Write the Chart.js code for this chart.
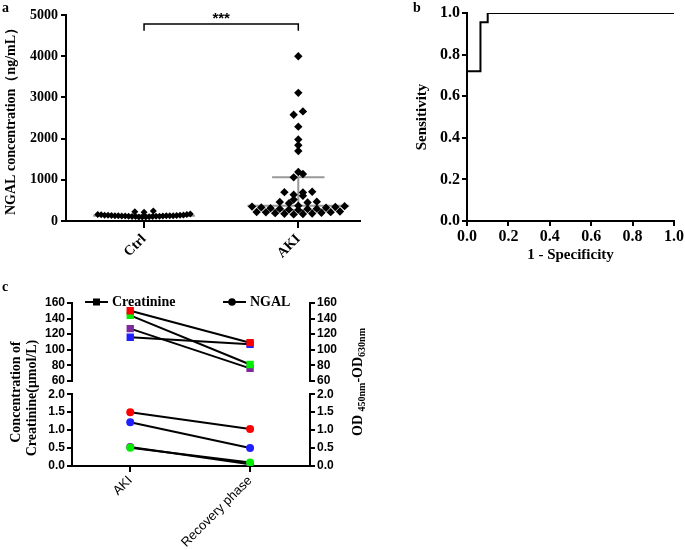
<!DOCTYPE html>
<html>
<head>
<meta charset="utf-8">
<script src="https://cdn.jsdelivr.net/npm/chart.js@4.4.1/dist/chart.umd.min.js"></script>
<style>
body { margin: 0; background: #fff; width: 685px; height: 550px; position: relative; overflow: hidden; font-family: 'Times New Roman', 'Liberation Serif', serif; }
canvas { position: absolute; }
.lbl { position: absolute; font-weight: bold; font-size: 14px; line-height: 16px; color: #000; white-space: nowrap; }
.rot { transform: translate(-50%, -50%) rotate(-90deg); }
sub { font-size: 10px; vertical-align: -3px; }
</style>
</head>
<body>
<canvas id="chartA" width="400" height="270" style="left:0;top:0"></canvas>
<canvas id="chartB" width="300" height="270" style="left:400px;top:0"></canvas>
<canvas id="chartC1" width="385" height="105" style="left:0;top:285px"></canvas>
<canvas id="chartC2" width="385" height="165" style="left:0;top:385px"></canvas>

<div class="lbl" style="left:2px;top:0px">a</div>
<div class="lbl" style="left:413px;top:0px">b</div>
<div class="lbl" style="left:2px;top:279px">c</div>
<div class="lbl rot" style="left:16px;top:392px">Concentration of</div>
<div class="lbl rot" style="left:32px;top:398px">Creatinine(μmol/L)</div>
<div class="lbl rot" style="left:360px;top:382px">OD <sub>450nm</sub>-OD<sub>630nm</sub></div>

<script>
// ---- panel a : NGAL concentration ----
const groups = ['Ctrl', 'AKI'];
const ctrlValues = [95, 100, 100, 105, 108, 110, 112, 115, 115, 118, 120, 120, 122, 125, 125, 128,
    130, 130, 132, 135, 138, 140, 142, 145, 150, 155, 160, 170, 215, 225, 240];
const akiValues = [160, 170, 175, 180, 190, 200, 210, 215, 220, 230,
    270, 280, 290, 295, 300, 310, 320, 330, 340, 350,
    360, 372, 430, 450, 460, 470, 520, 610, 640, 690, 700, 710,
    1060, 1140, 1190, 1700, 1840, 1980, 2290, 2580, 2660, 3110, 4000];
const ngalTicks = [0, 1000, 2000, 3000, 4000, 5000];

// ---- panel b : ROC ----
const rocFpr = [0, 0, 0.065, 0.1, 1];
const rocTpr = [0, 0.72, 0.955, 1, 1];
const rocTicks = [0, 0.2, 0.4, 0.6, 0.8, 1.0];

// ---- panel c : paired samples ----
const phases = ['AKI', 'Recovery phase'];
const patientColors = ['#ff0000', '#00ee00', '#7d2a9c', '#1f1fff'];
const creatinineAki = [150, 144, 127, 116];
const creatinineRecovery = [109, 81, 76, 107];
const ngalOrder = [0, 3, 1, 2]; // red, blue, green, purple
const ngalAki = [1.50, 0.51, 0.53, 1.22];
const ngalRecovery = [1.03, 0.10, 0.05, 0.50];
const creatinineTicks = [60, 80, 100, 120, 140, 160];
const odTicks = [0, 0.5, 1.0, 1.5, 2.0];

const serif = "'Times New Roman', 'Liberation Serif', serif";
const sans = "Arial, 'Liberation Sans', sans-serif";

function quantile(vals, p) {
    const s = [...vals].sort((a, b) => a - b);
    const pos = (s.length + 1) * p - 1;
    const lo = Math.max(0, Math.floor(pos));
    const hi = Math.min(s.length - 1, lo + 1);
    return s[lo] + (s[hi] - s[lo]) * (pos - lo);
}

// column scatter layout: points of similar value are spread sideways, lowest in the middle
function swarm(values, center, binSize, step, maxHalf) {
    const sorted = [...values].sort((a, b) => a - b);
    const bins = [];
    sorted.forEach(v => {
        const last = bins[bins.length - 1];
        if (last && v - last[0] <= binSize) { last.push(v); } else { bins.push([v]); }
    });
    const pts = [];
    bins.forEach(bin => {
        const k = bin.length;
        const s = k > 1 ? Math.min(step, 2 * maxHalf / (k - 1)) : 0;
        const slots = bin.map((v, j) => j - (k - 1) / 2)
            .sort((a, b) => Math.abs(a) - Math.abs(b) || a - b);
        bin.forEach((v, i) => pts.push({ x: center + slots[i] * s, y: v }));
    });
    return pts;
}

function axisStyle(extra) {
    return Object.assign({
        border: { color: '#000', width: 2 },
        grid: { display: true, drawOnChartArea: false, drawTicks: true, tickLength: 5, color: '#000', lineWidth: 2 }
    }, extra);
}

// summary lines (median + interquartile range) and significance bracket
const summaryPlugin = {
    id: 'summary',
    beforeDatasetsDraw(chart) {
        const { ctx, scales: { x, y } } = chart;
        ctx.save();
        ctx.strokeStyle = '#999';
        ctx.lineWidth = 2;
        [ctrlValues, akiValues].forEach((vals, i) => {
            const q1 = quantile(vals, 0.25), med = quantile(vals, 0.5), q3 = quantile(vals, 0.75);
            ctx.beginPath();
            ctx.moveTo(x.getPixelForValue(i - 0.33), y.getPixelForValue(med));
            ctx.lineTo(x.getPixelForValue(i + 0.33), y.getPixelForValue(med));
            [q1, q3].forEach(q => {
                ctx.moveTo(x.getPixelForValue(i - 0.17), y.getPixelForValue(q));
                ctx.lineTo(x.getPixelForValue(i + 0.17), y.getPixelForValue(q));
            });
            ctx.moveTo(x.getPixelForValue(i), y.getPixelForValue(q1));
            ctx.lineTo(x.getPixelForValue(i), y.getPixelForValue(q3));
            ctx.stroke();
        });
        ctx.restore();
    },
    afterDraw(chart) {
        const { ctx, scales: { x, y } } = chart;
        const x0 = x.getPixelForValue(0), x1 = x.getPixelForValue(1);
        const top = y.getPixelForValue(4780), leg = y.getPixelForValue(4620);
        ctx.save();
        ctx.strokeStyle = '#000';
        ctx.lineWidth = 1.5;
        ctx.beginPath();
        ctx.moveTo(x0, leg); ctx.lineTo(x0, top); ctx.lineTo(x1, top); ctx.lineTo(x1, leg);
        ctx.stroke();
        ctx.fillStyle = '#000';
        ctx.font = 'bold 15px ' + sans;
        ctx.textAlign = 'center';
        ctx.fillText('***', (x0 + x1) / 2, top - 1);
        ctx.restore();
    }
};

new Chart(document.getElementById('chartA'), {
    type: 'scatter',
    data: {
        datasets: [
            { data: swarm(ctrlValues, 0, 100, 0.06, 0.3), pointStyle: 'rectRot', pointRadius: 3.5, backgroundColor: '#000', borderColor: '#000', borderWidth: 0 },
            { data: swarm(akiValues, 1, 100, 0.06, 0.3), pointStyle: 'rectRot', pointRadius: 4.2, backgroundColor: '#000', borderColor: '#000', borderWidth: 0 }
        ]
    },
    options: {
        responsive: false,
        animation: false,
        events: [],
        layout: { padding: { top: 15, right: 40, left: 0, bottom: 0 } },
        plugins: { legend: { display: false }, tooltip: { enabled: false } },
        scales: {
            x: axisStyle({
                type: 'linear', min: -0.506, max: 1.4,
                afterBuildTicks: s => { s.ticks = groups.map((g, i) => ({ value: i })); },
                afterFit: s => { s.height = 49; },
                grid: { display: true, drawOnChartArea: false, drawTicks: true, tickLength: 7, color: '#000', lineWidth: 2 },
                ticks: { callback: v => groups[v], minRotation: 45, maxRotation: 45, autoSkip: false, color: '#000', padding: 3, font: { family: serif, size: 14, weight: 'bold' } }
            }),
            y: axisStyle({
                min: 0, max: 5000,
                afterBuildTicks: s => { s.ticks = ngalTicks.map(v => ({ value: v })); },
                afterFit: s => { s.width = 66; },
                ticks: { callback: v => String(v), autoSkip: false, color: '#000', padding: 3, font: { family: serif, size: 14, weight: 'bold' } },
                title: { display: true, text: 'NGAL concentration（ng/mL）', color: '#000', padding: { top: 3 }, font: { family: serif, size: 14, weight: 'bold' } }
            })
        }
    },
    plugins: [summaryPlugin]
});

new Chart(document.getElementById('chartB'), {
    type: 'line',
    data: {
        datasets: [{
            data: rocFpr.map((f, i) => ({ x: f, y: rocTpr[i] })),
            stepped: true, borderColor: '#000', borderWidth: 2, pointRadius: 0, fill: false
        }]
    },
    options: {
        responsive: false,
        animation: false,
        events: [],
        layout: { padding: { top: 13, right: 26, left: 0, bottom: 0 } },
        plugins: { legend: { display: false }, tooltip: { enabled: false } },
        scales: {
            x: axisStyle({
                type: 'linear', min: 0, max: 1,
                afterBuildTicks: s => { s.ticks = rocTicks.map(v => ({ value: v })); },
                afterFit: s => { s.height = 49; },
                ticks: { callback: v => v.toFixed(1), autoSkip: false, color: '#000', padding: 1, maxRotation: 0, font: { family: serif, size: 16, weight: 'bold' } },
                title: { display: true, text: '1 - Specificity', color: '#000', padding: { bottom: 6 }, font: { family: serif, size: 15, weight: 'bold' } }
            }),
            y: axisStyle({
                min: 0, max: 1,
                afterBuildTicks: s => { s.ticks = rocTicks.map(v => ({ value: v })); },
                afterFit: s => { s.width = 67; },
                ticks: { callback: v => v.toFixed(1), autoSkip: false, color: '#000', padding: 2, font: { family: serif, size: 16, weight: 'bold' } },
                title: { display: true, text: 'Sensitivity', color: '#000', padding: { top: 13 }, font: { family: serif, size: 15, weight: 'bold' } }
            })
        }
    }
});

// legend drawn over the top half of panel c
const legendPlugin = {
    id: 'pairLegend',
    afterDraw(chart) {
        const ctx = chart.ctx;
        const y = 17;
        ctx.save();
        ctx.strokeStyle = '#000';
        ctx.fillStyle = '#000';
        ctx.lineWidth = 2;
        ctx.beginPath();
        ctx.moveTo(85, y); ctx.lineTo(108, y);
        ctx.moveTo(223, y); ctx.lineTo(246, y);
        ctx.stroke();
        ctx.fillRect(93, y - 3.5, 7, 7);
        ctx.beginPath();
        ctx.arc(232, y, 3.8, 0, Math.PI * 2);
        ctx.fill();
        ctx.font = 'bold 14px ' + serif;
        ctx.textBaseline = 'middle';
        ctx.fillText('Creatinine', 112, y);
        ctx.fillText('NGAL', 250, y);
        ctx.restore();
    }
};

function pairSets(order, akiVals, recVals, style, radius) {
    return order.map(i => ({
        data: phases.map((p, j) => ({ x: j, y: j === 0 ? akiVals[i] : recVals[i] })),
        borderColor: '#000', borderWidth: 2,
        pointStyle: style, pointRadius: radius,
        pointBackgroundColor: patientColors[i], pointBorderColor: patientColors[i], pointBorderWidth: 0
    }));
}

function pairScales(minV, maxV, ticks, fmt, showX) {
    const tickFont = { family: sans, size: 12, weight: 'bold' };
    return {
        x: axisStyle({
            type: 'linear', min: -0.486, max: 1.5, display: showX,
            afterBuildTicks: s => { s.ticks = phases.map((p, i) => ({ value: i })); },
            afterFit: s => { s.height = showX ? 84 : 0; },
            grid: { display: true, drawOnChartArea: false, drawTicks: true, tickLength: 6, color: '#000', lineWidth: 2 },
            ticks: { callback: v => phases[v], minRotation: 45, maxRotation: 45, autoSkip: false, color: '#000', padding: 1, font: { family: sans, size: 13 } }
        }),
        y: axisStyle({
            position: 'left', min: minV, max: maxV,
            afterBuildTicks: s => { s.ticks = ticks.map(v => ({ value: v })); },
            afterFit: s => { s.width = 72; },
            ticks: { callback: fmt, autoSkip: false, color: '#000', padding: 2, font: tickFont }
        }),
        y2: axisStyle({
            position: 'right', min: minV, max: maxV,
            afterBuildTicks: s => { s.ticks = ticks.map(v => ({ value: v })); },
            afterFit: s => { s.width = 75; },
            ticks: { callback: fmt, autoSkip: false, color: '#000', padding: 2, font: tickFont }
        })
    };
}

new Chart(document.getElementById('chartC1'), {
    type: 'line',
    data: { datasets: pairSets([0, 1, 2, 3], creatinineAki, creatinineRecovery, 'rect', 5.2) },
    options: {
        responsive: false,
        animation: false,
        events: [],
        layout: { padding: { top: 18, right: 0, left: 0, bottom: 9 } },
        plugins: { legend: { display: false }, tooltip: { enabled: false } },
        scales: pairScales(60, 160, creatinineTicks, v => v, false)
    },
    plugins: [legendPlugin]
});

new Chart(document.getElementById('chartC2'), {
    type: 'line',
    data: { datasets: pairSets(ngalOrder, ngalAki, ngalRecovery, 'circle', 4) },
    options: {
        responsive: false,
        animation: false,
        events: [],
        layout: { padding: { top: 8, right: 0, left: 0, bottom: 0 } },
        plugins: { legend: { display: false }, tooltip: { enabled: false } },
        scales: pairScales(0, 2, odTicks, v => v.toFixed(1), true)
    }
});
</script>
</body>
</html>
